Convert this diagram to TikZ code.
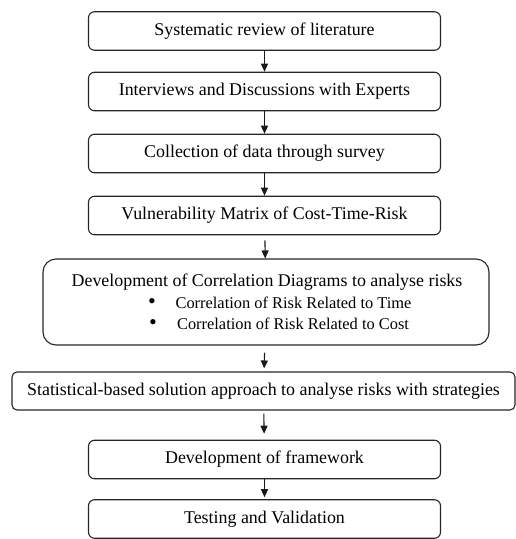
\documentclass[tikz,border=0pt]{standalone}
\usepackage{fontspec}
\setmainfont{Liberation Serif}
\usetikzlibrary{arrows.meta}
\begin{document}
\begin{tikzpicture}[x=1pt,y=1pt,
  stepbox/.style={draw=black!85, line width=1.1pt, rounded corners=6pt, inner sep=0pt,
    minimum height=38.5pt, font=\fontsize{17.9pt}{21pt}\selectfont},
  narrow/.style={stepbox, minimum width=352pt},
  txt/.style={inner sep=0pt, font=\fontsize{17.9pt}{21pt}\selectfont},
  smalltxt/.style={inner sep=0pt, anchor=base, font=\fontsize{16.4pt}{19pt}\selectfont},
  flow/.style={draw=black!90, line width=1.1pt, -{Triangle[length=8pt,width=7pt]}}
]
\useasboundingbox (0,0) rectangle (516,-539);
\node[narrow] (b1) at (264.5,-31) {Systematic review of literature};
\node[narrow] (b2) at (264.5,-91.5) {Interviews and Discussions with Experts};
\node[narrow] (b3) at (264.5,-153.5) {Collection of data through survey};
\node[narrow] (b4) at (264.5,-215.5) {Vulnerability Matrix of Cost-Time-Risk};
\node[stepbox, minimum width=446pt, minimum height=86pt, rounded corners=13pt] (b5) at (266,-302) {};
\node[txt] (t5) at (267,-282) {Development of Correlation Diagrams to analyse risks};
\node[smalltxt] (l1) at (293.5,-308) {Correlation of Risk Related to Time};
\node[smalltxt] (l2) at (293,-329) {Correlation of Risk Related to Cost};
\node[smalltxt] (d1) at (152,-308) {\scalebox{1.35}{\textbullet}};
\node[smalltxt] (d2) at (153,-329) {\scalebox{1.35}{\textbullet}};
\node[stepbox, minimum width=503pt, minimum height=38pt, rounded corners=5pt] (b6) at (263.5,-391) {Statistical-based solution approach to analyse risks with strategies};
\node[narrow] (b7) at (264.5,-459.5) {Development of framework};
\node[narrow] (b8) at (264.5,-519) {Testing and Validation};
\draw[flow] (b1) -- (b2);
\draw[flow] (b2) -- (b3);
\draw[flow] (b3) -- (b4);
\draw[flow, shorten <=5pt] (b4) -- (b5);
\draw[flow, shorten <=7pt, shorten >=3pt] (b5) -- (b6);
\draw[flow, shorten <=3pt, shorten >=6pt] (b6) -- (b7);
\draw[flow, shorten >=2pt] (b7) -- (b8);
\end{tikzpicture}
\end{document}
